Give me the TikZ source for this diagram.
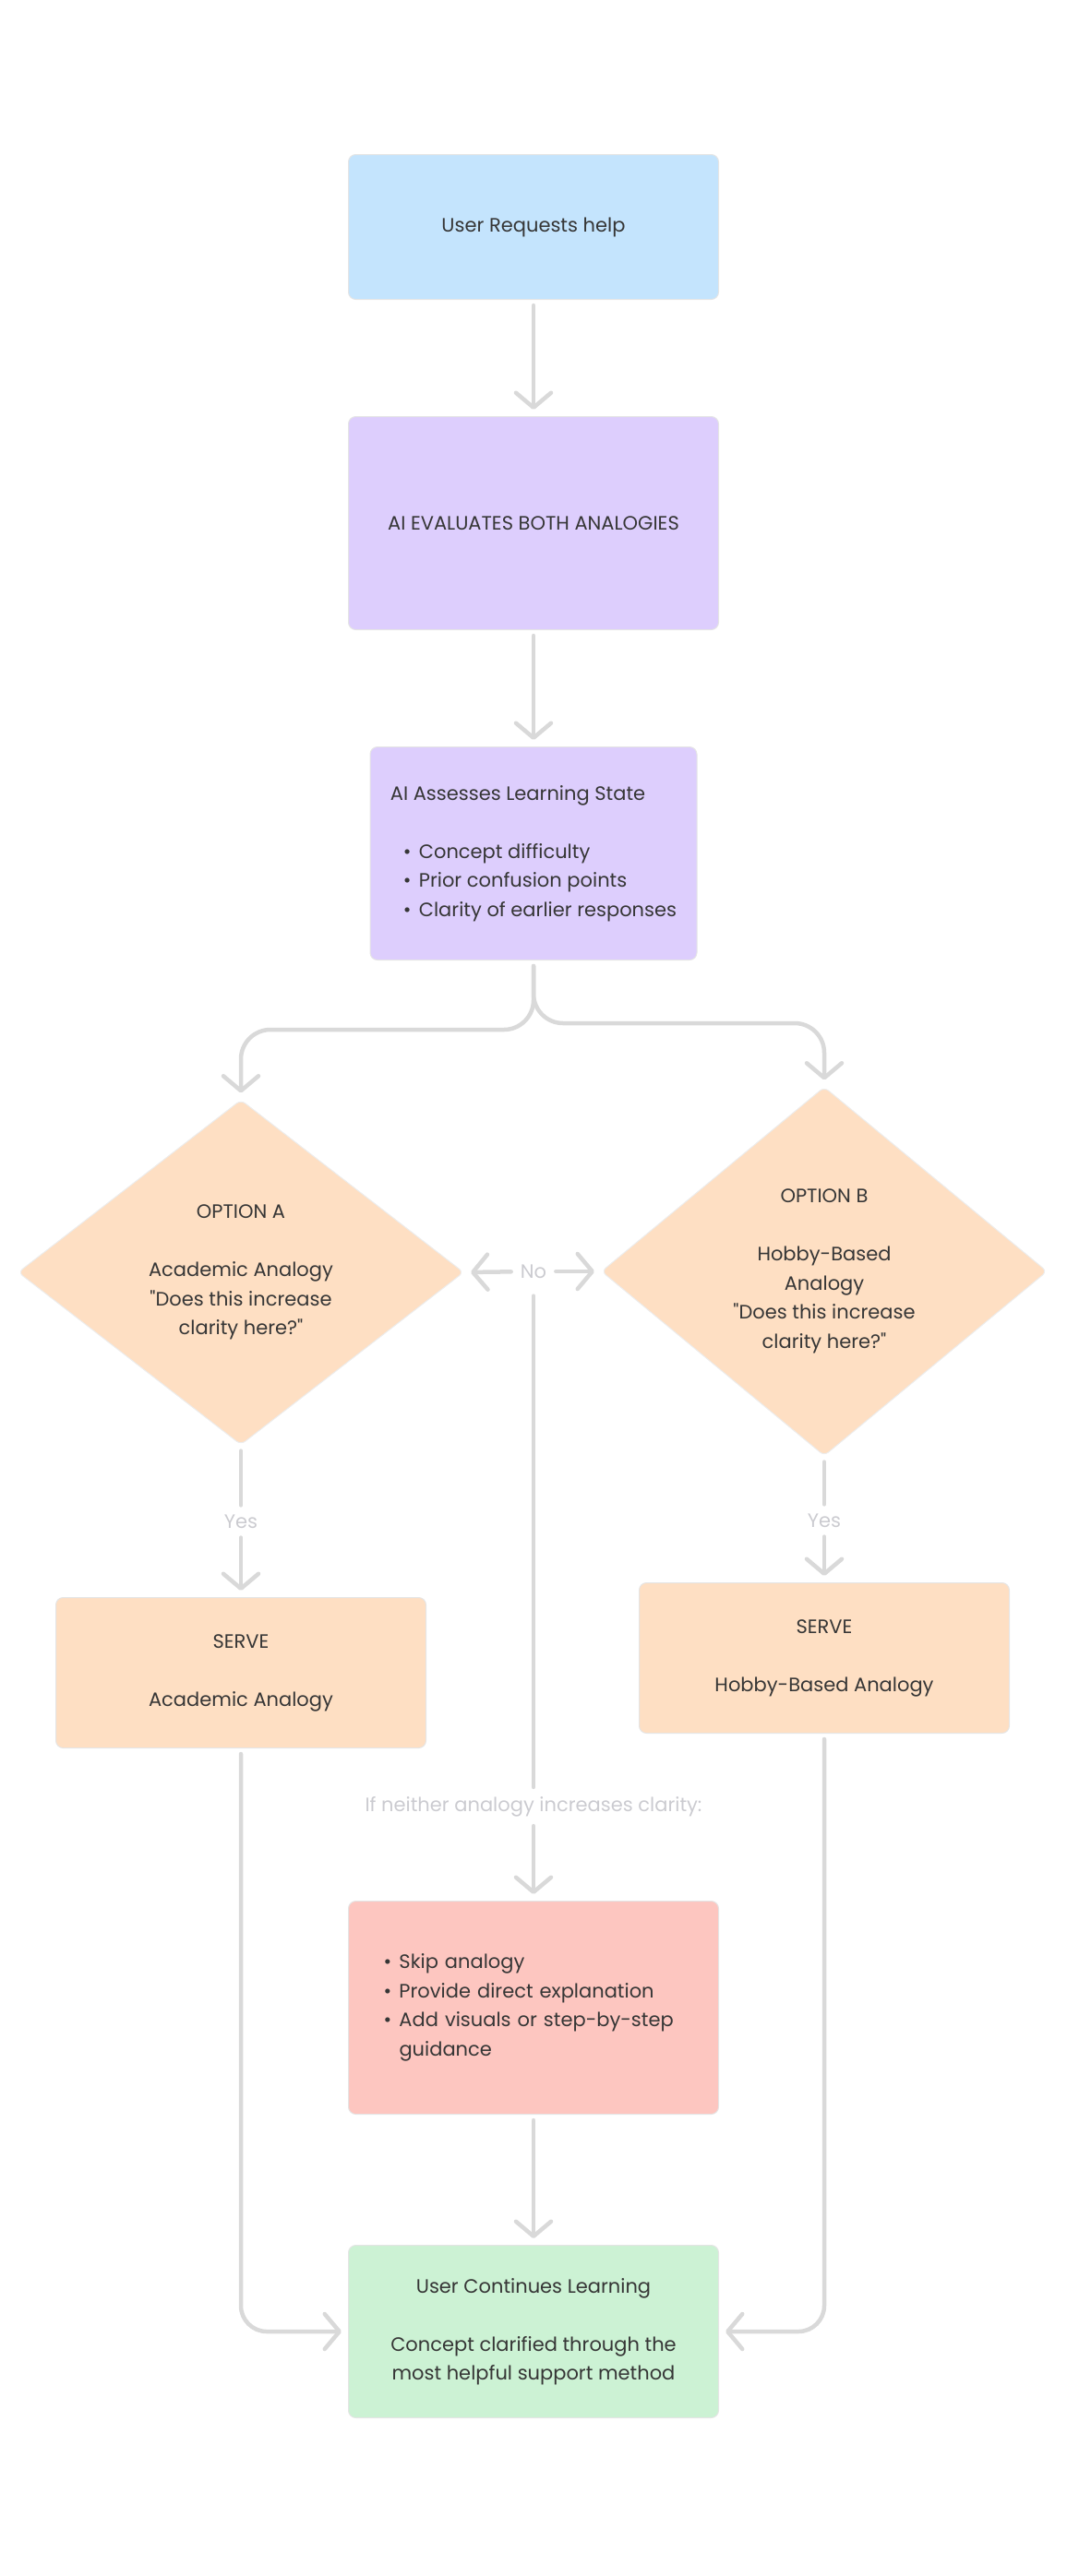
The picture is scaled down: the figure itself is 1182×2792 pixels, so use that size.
\documentclass[tikz,border=0pt]{standalone}
\usepackage{fontspec}
\setmainfont{Poppins}[Ligatures=TeXOff]
\usetikzlibrary{shapes.geometric,arrows.meta}
\definecolor{reqblue}{HTML}{C4E4FD}
\definecolor{evalpurple}{HTML}{DDCEFD}
\definecolor{optpeach}{HTML}{FEDFC3}
\definecolor{skipred}{HTML}{FDC6C0}
\definecolor{contgreen}{HTML}{CCF2D4}
\definecolor{linkgray}{HTML}{D9D9D9}
\definecolor{labelgray}{HTML}{CBCBD0}
\definecolor{inkgray}{HTML}{363636}
\newcommand{\bul}{\makebox[17pt][l]{\textbullet}}

\begin{document}
\begin{tikzpicture}[x=1pt,y=-1pt,
  font=\fontsize{21}{31.5}\selectfont,
  box/.style={draw=black!10,line width=1pt,rounded corners=8pt,align=center,
    text=inkgray,inner sep=0pt,minimum width=401pt},
  choice/.style={diamond,draw=black!7,line width=1pt,rounded corners=6pt,
    fill=optpeach,align=center,text=inkgray,inner sep=0pt,minimum width=483pt},
  lbl/.style={text=labelgray,inner sep=4pt},
  link/.style={draw=linkgray,line width=4.5pt,line cap=round,shorten <=6pt,shorten >=6pt},
  flow/.style={link,-{Straight Barb[length=16pt,width=38pt,round]},shorten >=7pt}]
  \useasboundingbox (0,0) rectangle (1182,2792);

  % main column
  \node[box,fill=reqblue,minimum height=157pt] (req) at (578,246) {User Requests help};
  \node[box,fill=evalpurple,minimum height=231pt] (eval) at (578,567) {AI EVALUATES BOTH ANALOGIES};
  \node[box,fill=evalpurple,minimum width=354pt,minimum height=231pt,align=left] (assess) at (578,925)
    {AI Assesses Learning State\\[31.5pt]
     \hspace*{14pt}\bul Concept difficulty\\
     \hspace*{14pt}\bul Prior confusion points\\
     \hspace*{14pt}\bul Clarity of earlier responses};

  % the two options
  \node[choice,minimum height=374pt] (optA) at (261,1379)
    {OPTION A\\[31.5pt]Academic Analogy\\"Does this increase\\clarity here?"};
  \node[choice,minimum height=400pt] (optB) at (893,1378)
    {OPTION B\\[31.5pt]Hobby-Based\\Analogy\\"Does this increase\\clarity here?"};
  \node[lbl] (no) at (578,1378) {No};
  \node[lbl] (yesA) at (261,1649) {Yes};
  \node[lbl] (yesB) at (893,1648) {Yes};
  \node[box,fill=optpeach,minimum height=163pt] (serveA) at (261,1813) {SERVE\\[31.5pt]Academic Analogy};
  \node[box,fill=optpeach,minimum height=163pt] (serveB) at (893,1797) {SERVE\\[31.5pt]Hobby-Based Analogy};

  % fallback and end
  \node[lbl] (neither) at (578,1958) {If neither analogy increases clarity:};
  \node[box,fill=skipred,minimum height=231pt,text width=325pt,align=left] (skip) at (578,2176)
    {\bul Skip analogy\\
     \bul Provide direct explanation\\
     \bul Add visuals or step-by-step\\
     \hspace*{17pt}guidance};
  \node[box,fill=contgreen,minimum height=187pt] (cont) at (578,2527)
    {User Continues Learning\\[31.5pt]Concept clarified through the\\most helpful support method};

  % connectors
  \draw[flow] (req) -- (eval);
  \draw[flow] (eval) -- (assess);
  \draw[flow,rounded corners=32pt] (assess.south) -- ++(0,75) -| (optA.north);
  \draw[flow,rounded corners=32pt] (assess.south) -- ++(0,68) -| (optB.north);
  \draw[flow] (no) -- (optA.east);
  \draw[flow] (no) -- (optB.west);
  \draw[link,shorten <=15pt] (no) -- (neither);
  \draw[flow] (neither) -- (skip);
  \draw[link] (optA) -- (yesA);
  \draw[flow] (yesA) -- (serveA);
  \draw[link] (optB) -- (yesB);
  \draw[flow] (yesB) -- (serveB);
  \draw[flow] (skip) -- (cont);
  \draw[flow,rounded corners=28pt] (serveA) |- (cont);
  \draw[flow,rounded corners=28pt] (serveB) |- (cont);
\end{tikzpicture}
\end{document}
